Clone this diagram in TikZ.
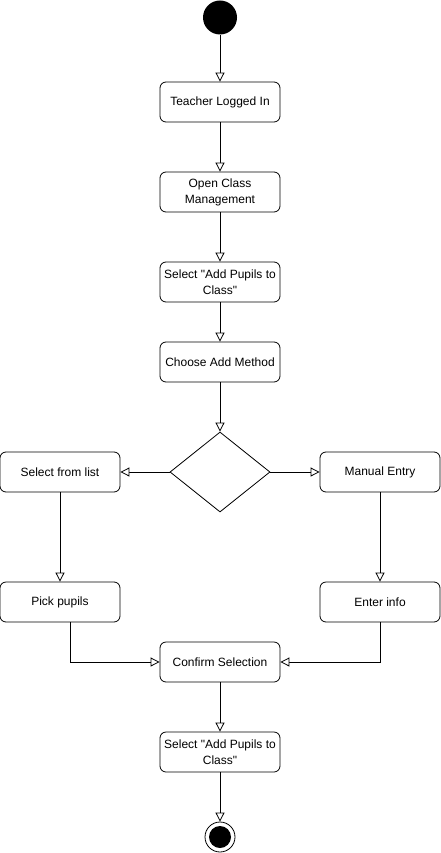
\documentclass[tikz,border=0pt]{standalone}
\usepackage{fontspec}
\newfontfamily\lsans{Liberation Sans}
\usetikzlibrary{shapes.geometric,arrows.meta}
\begin{document}
\begin{tikzpicture}[x=1pt,y=-1pt,
  act/.style={draw,rectangle,rounded corners=6pt,minimum width=120pt,minimum height=40pt,
    inner sep=2pt,align=center,line width=0.8pt,font=\lsans\fontsize{12}{16}\selectfont},
  flow/.style={draw,line width=0.8pt,-{Triangle[open,length=9pt,width=9pt,fill=white]}},
  dec/.style={draw,diamond,aspect=1.25,minimum width=100pt,minimum height=80pt,inner sep=0pt,line width=0.8pt}]
\useasboundingbox (0,0) rectangle (441,853);
\node[circle,fill=black,minimum size=34pt,inner sep=0pt] (start) at (220,17.5) {};
\node[act] (teacher) at (220,102) {Teacher Logged In};
\node[act] (open) at (220,192) {Open Class\\Management};
\node[act] (sel1) at (220,282) {Select "Add Pupils to\\Class"};
\node[act] (choose) at (220,362) {Choose Add Method};
\node[dec] (dec) at (220,472) {};
\node[act] (list) at (60,472) {Select from list};
\node[act] (manual) at (380,472) {Manual Entry};
\node[act] (pick) at (60,602) {Pick pupils};
\node[act] (enter) at (380,602) {Enter info};
\node[act] (confirm) at (220,662) {Confirm Selection};
\node[act] (sel2) at (220,752) {Select "Add Pupils to\\Class"};
\node[circle,draw,line width=0.8pt,minimum size=30pt,inner sep=0pt] (end) at (220,837) {};
\node[circle,fill=black,minimum size=22pt,inner sep=0pt] (endin) at (end.center) {};
\draw[flow] (start) -- (teacher);
\draw[flow] (teacher) -- (open);
\draw[flow] (open) -- (sel1);
\draw[flow] (sel1) -- (choose);
\draw[flow] (choose) -- (dec);
\draw[flow] (dec) -- (list);
\draw[flow] (dec) -- (manual);
\draw[flow] (list) -- (pick);
\draw[flow] (manual) -- (enter);
\draw[flow] ([xshift=10pt]pick.south) |- (confirm.west);
\draw[flow] (enter.south) |- (confirm.east);
\draw[flow] (confirm) -- (sel2);
\draw[flow] (sel2) -- (end);
\end{tikzpicture}
\end{document}
